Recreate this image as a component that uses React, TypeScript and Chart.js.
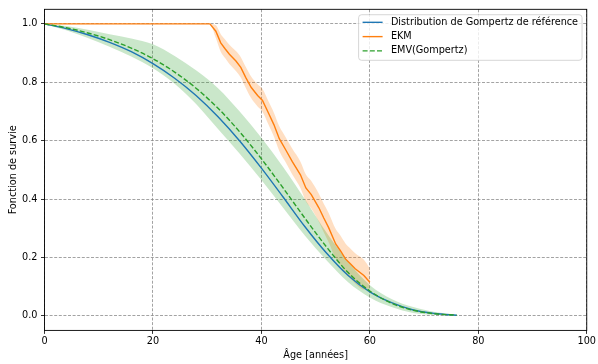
import React, { useEffect, useRef } from 'react';
import { Chart, registerables } from 'chart.js';

Chart.register(...registerables);

// ---- Data ----
const AGE = [0, 4, 8, 12, 16, 20, 24, 28, 32, 36, 40, 44, 48, 52, 56, 60, 64, 68, 72, 76];
const REF_S = [1, 0.984, 0.963, 0.937, 0.905, 0.864, 0.814, 0.754, 0.682, 0.599, 0.506, 0.407, 0.306, 0.215, 0.138, 0.082, 0.045, 0.02, 0.008, 0.002];
const EMV_S = [1, 0.987, 0.969, 0.946, 0.917, 0.881, 0.835, 0.779, 0.711, 0.630, 0.538, 0.438, 0.335, 0.236, 0.148, 0.085, 0.043, 0.019, 0.007, 0.002];
const EMV_UP = [1, 0.993, 0.98, 0.965, 0.95, 0.93, 0.89, 0.84, 0.78, 0.70, 0.61, 0.51, 0.40, 0.285, 0.185, 0.105, 0.058, 0.03, 0.013, 0.004];
const EMV_LO = [1, 0.978, 0.952, 0.922, 0.888, 0.848, 0.795, 0.725, 0.64, 0.555, 0.465, 0.37, 0.275, 0.19, 0.115, 0.063, 0.03, 0.01, 0.003, 0];

const EKM_T = [0, 30.5, 31.6, 32.5, 33.3, 34.1, 35.3, 36.2, 37.1, 38.1, 39.3, 40.2, 41.3, 42.3, 43.3, 44.5, 45.7, 47.2, 48.2, 49.2, 50.6, 51.5, 52.4, 53.7, 54.6, 55.5, 56.4, 57.3, 58.9, 60];
const EKM_S = [1, 1, 0.975, 0.935, 0.915, 0.896, 0.873, 0.851, 0.817, 0.783, 0.755, 0.738, 0.695, 0.655, 0.607, 0.568, 0.528, 0.483, 0.438, 0.415, 0.370, 0.335, 0.302, 0.246, 0.222, 0.195, 0.178, 0.161, 0.138, 0.115];
const EKM_UP = [1, 1, 0.995, 0.965, 0.947, 0.929, 0.907, 0.886, 0.853, 0.82, 0.793, 0.777, 0.735, 0.696, 0.649, 0.611, 0.572, 0.528, 0.484, 0.462, 0.418, 0.384, 0.352, 0.297, 0.274, 0.248, 0.231, 0.214, 0.192, 0.162];
const EKM_LO = [1, 1, 0.952, 0.905, 0.883, 0.863, 0.839, 0.816, 0.781, 0.746, 0.717, 0.699, 0.655, 0.614, 0.565, 0.525, 0.484, 0.438, 0.392, 0.368, 0.322, 0.286, 0.252, 0.196, 0.172, 0.145, 0.128, 0.111, 0.09, 0.094];

const X_TICKS = [0, 20, 40, 60, 80, 100];
const Y_TICKS = [0, 0.2, 0.4, 0.6, 0.8, 1.0];
const LABEL_REF = 'Distribution de Gompertz de référence';
const LABEL_EKM = 'EKM';
const LABEL_EMV = 'EMV(Gompertz)';
const X_TITLE = 'Âge [années]';
const Y_TITLE = 'Fonction de survie';

const FONT = 'DejaVu Sans';
const FS = 9.7;
const BLUE = '#1f77b4';
const ORANGE = '#ff7f0e';
const GREEN = '#2ca02c';

const pts = (xs: number[], ys: number[]) => xs.map((x, i) => ({ x, y: ys[i] }));

const mplPlugin = {
  id: 'mplDecor',
  afterDatasetsDraw(chart: any) {
    const ctx = chart.ctx as CanvasRenderingContext2D;
    const ca = chart.chartArea;
    ctx.save();
    // spines
    ctx.strokeStyle = '#000';
    ctx.lineWidth = 0.9;
    ctx.setLineDash([]);
    ctx.strokeRect(ca.left, ca.top, ca.right - ca.left, ca.bottom - ca.top);

    // legend
    const items = chart.data.datasets.filter((d: any) => d.legendEntry);
    ctx.font = `${FS}px "${FONT}"`;
    const textW = Math.max(...items.map((d: any) => ctx.measureText(d.label).width));
    const boxW = 32.3 + textW + 4;
    const boxH = 45.6;
    const right = ca.right - 4.7;
    const left = right - boxW;
    const top = ca.top + 5.4;
    const r = 3;
    ctx.beginPath();
    ctx.moveTo(left + r, top);
    ctx.lineTo(right - r, top);
    ctx.arcTo(right, top, right, top + r, r);
    ctx.lineTo(right, top + boxH - r);
    ctx.arcTo(right, top + boxH, right - r, top + boxH, r);
    ctx.lineTo(left + r, top + boxH);
    ctx.arcTo(left, top + boxH, left, top + boxH - r, r);
    ctx.lineTo(left, top + r);
    ctx.arcTo(left, top, left + r, top, r);
    ctx.closePath();
    ctx.fillStyle = 'rgba(255,255,255,0.8)';
    ctx.fill();
    ctx.strokeStyle = 'rgba(204,204,204,0.8)';
    ctx.lineWidth = 1;
    ctx.stroke();

    items.forEach((d: any, i: number) => {
      const y = top + 7.6 + i * 14.3;
      ctx.beginPath();
      ctx.strokeStyle = d.borderColor;
      ctx.lineWidth = d.borderWidth;
      ctx.setLineDash(d.borderDash || []);
      ctx.moveTo(left + 4, y);
      ctx.lineTo(left + 24, y);
      ctx.stroke();
      ctx.setLineDash([]);
      ctx.fillStyle = '#000';
      ctx.textBaseline = 'middle';
      ctx.textAlign = 'left';
      ctx.fillText(d.label, left + 32.3, y);
    });
    ctx.restore();
  },
};

export default function App() {
  const ref = useRef<HTMLCanvasElement | null>(null);

  useEffect(() => {
    if (!ref.current) return;
    const band = (data: any[], color: string, fill: any) => ({
      label: '',
      data,
      showLine: true,
      borderWidth: 0,
      borderColor: 'rgba(0,0,0,0)',
      backgroundColor: color,
      pointRadius: 0,
      fill,
      order: 10,
      cubicInterpolationMode: 'monotone',
    });
    const chart = new Chart(ref.current, {
      type: 'scatter',
      data: {
        datasets: [
          band(pts(AGE, EMV_UP), 'rgba(44,160,44,0.25)', '+1'),
          band(pts(AGE, EMV_LO), 'rgba(44,160,44,0)', false),
          band(pts(EKM_T, EKM_UP), 'rgba(255,127,14,0.25)', '+1'),
          band(pts(EKM_T, EKM_LO), 'rgba(255,127,14,0)', false),
          {
            label: LABEL_REF,
            legendEntry: true,
            data: pts(AGE, REF_S),
            showLine: true,
            borderColor: BLUE,
            backgroundColor: BLUE,
            borderWidth: 1.4,
            pointRadius: 0,
            fill: false,
            order: 3,
            cubicInterpolationMode: 'monotone',
          },
          {
            label: LABEL_EKM,
            legendEntry: true,
            data: pts(EKM_T, EKM_S),
            showLine: true,
            borderColor: ORANGE,
            backgroundColor: ORANGE,
            borderWidth: 1.4,
            pointRadius: 0,
            fill: false,
            order: 2,
          },
          {
            label: LABEL_EMV,
            legendEntry: true,
            data: pts(AGE, EMV_S),
            showLine: true,
            borderColor: GREEN,
            backgroundColor: GREEN,
            borderWidth: 1.4,
            borderDash: [5, 2.2],
            pointRadius: 0,
            fill: false,
            order: 1,
            cubicInterpolationMode: 'monotone',
          },
        ] as any,
      },
      options: {
        responsive: false,
        animation: false,
        events: [],
        layout: { padding: { top: 6.3, right: 9, left: 0, bottom: 0 } },
        plugins: {
          legend: { display: false },
          tooltip: { enabled: false },
          title: { display: false },
        },
        scales: {
          x: {
            type: 'linear',
            min: 0,
            max: 100,
            afterBuildTicks: (s: any) => {
              s.ticks = X_TICKS.map((v) => ({ value: v }));
            },
            afterFit: (s: any) => {
              s.height = 33.6;
            },
            grid: {
              color: '#8c8c8c',
              lineWidth: 0.8,
              tickColor: '#000',
              tickWidth: 0.8,
              tickLength: 3.5,
              tickBorderDash: [],
            },
            border: { display: false, dash: [3, 1.6] },
            ticks: {
              color: '#000',
              font: { family: FONT, size: FS },
              padding: 2,
              maxRotation: 0,
              autoSkip: false,
              callback: (v: any) => String(v),
            },
            title: {
              display: true,
              text: X_TITLE,
              color: '#000',
              font: { family: FONT, size: FS },
              padding: { top: 0, bottom: 2.5 },
            },
          },
          y: {
            type: 'linear',
            min: -0.05,
            max: 1.05,
            afterBuildTicks: (s: any) => {
              s.ticks = Y_TICKS.map((v) => ({ value: v }));
            },
            afterFit: (s: any) => {
              s.width = 44.5;
            },
            grid: {
              color: '#8c8c8c',
              lineWidth: 0.8,
              tickColor: '#000',
              tickWidth: 0.8,
              tickLength: 3.5,
              tickBorderDash: [],
            },
            border: { display: false, dash: [3, 1.6] },
            ticks: {
              color: '#000',
              font: { family: FONT, size: FS },
              padding: 3.5,
              autoSkip: false,
              callback: (v: any) => Number(v).toFixed(1),
            },
            title: {
              display: true,
              text: Y_TITLE,
              color: '#000',
              font: { family: FONT, size: FS },
              padding: { top: 7.5, bottom: 0 },
            },
          },
        },
      } as any,
      plugins: [mplPlugin],
    });
    return () => chart.destroy();
  }, []);

  return (
    <div style={{ position: 'absolute', left: 0, top: 0, width: 598, height: 364, background: '#fff' }}>
      <canvas ref={ref} width={598} height={364} style={{ display: 'block', width: 598, height: 364 }} />
    </div>
  );
}
